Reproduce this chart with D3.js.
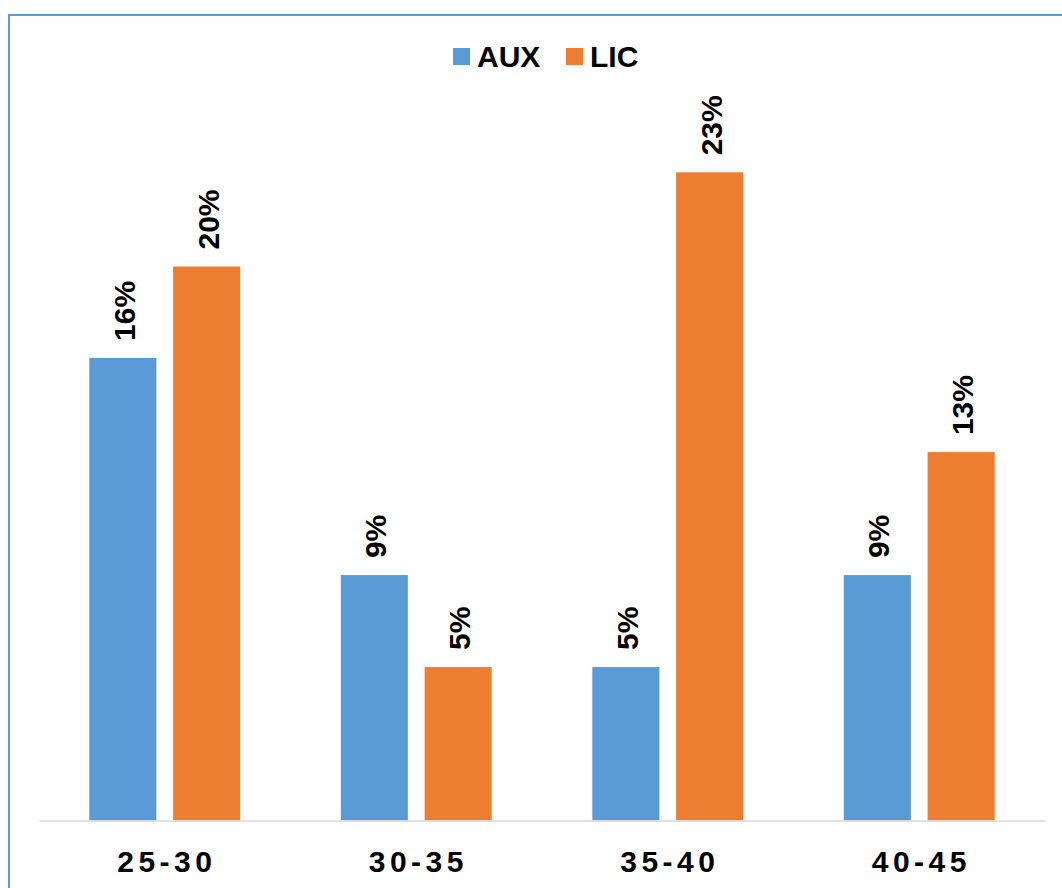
<!DOCTYPE html>
<html>
<head>
<meta charset="utf-8">
<script src="https://cdn.jsdelivr.net/npm/d3@7"></script>
<style>
  html, body { margin: 0; padding: 0; background: #fff; }
  svg { display: block; }
  text { font-family: "Liberation Sans", Arial, sans-serif; font-weight: bold; fill: #000; }
</style>
</head>
<body>
<script>
const categories = ["25-30", "30-35", "35-40", "40-45"];
const seriesNames = ["AUX", "LIC"];
const auxValues = [16.7, 8.86, 5.54, 8.86];
const licValues = [20.0, 5.54, 23.4, 13.3];
const auxLabels = ["16%", "9%", "5%", "9%"];
const licLabels = ["20%", "5%", "23%", "13%"];
const colors = ["#5B9BD5", "#ED7D31"];

const W = 1062, H = 888;
const svg = d3.select("body").append("svg").attr("width", W).attr("height", H);

// outer frame (extends past right/bottom edges like the reference)
svg.append("rect")
  .attr("x", 9).attr("y", 15)
  .attr("width", W + 20).attr("height", H + 20)
  .attr("fill", "none")
  .attr("stroke", "#5B9BD5")
  .attr("stroke-width", 2);

const plotLeft = 39, plotRight = 1045, baseY = 820.5;
const x0 = d3.scaleBand().domain(categories).range([plotLeft, plotRight]).paddingInner(0.4).paddingOuter(0.2);
const x1 = d3.scaleBand().domain(seriesNames).range([0, x0.bandwidth()]).paddingInner(0.2);
const y = d3.scaleLinear().domain([0, 25]).range([baseY, baseY - 25 * 27.7]);

const data = categories.map((c, i) => ({
  cat: c,
  vals: [
    { s: "AUX", v: auxValues[i], label: auxLabels[i], color: colors[0] },
    { s: "LIC", v: licValues[i], label: licLabels[i], color: colors[1] }
  ]
}));

const groups = svg.selectAll("g.grp").data(data).enter().append("g")
  .attr("class", "grp")
  .attr("transform", d => `translate(${x0(d.cat)},0)`);

groups.selectAll("rect").data(d => d.vals).enter().append("rect")
  .attr("x", d => x1(d.s))
  .attr("y", d => y(d.v))
  .attr("width", x1.bandwidth())
  .attr("height", d => y(0) - y(d.v))
  .attr("fill", d => d.color);

groups.selectAll("text.lbl").data(d => d.vals).enter().append("text")
  .attr("class", "lbl")
  .attr("transform", d => `translate(${x1(d.s) + x1.bandwidth() / 2},${y(d.v) - 17}) rotate(-90)`)
  .attr("dy", "0.4em")
  .attr("text-anchor", "start")
  .style("font-size", "30px")
  .text(d => d.label);

// baseline axis
const xAxis = d3.axisBottom(x0).tickSize(0).tickPadding(0);
const ax = svg.append("g").attr("transform", `translate(0,${baseY})`).call(xAxis);
ax.select(".domain").attr("stroke", "#D9D9D9").attr("stroke-width", 1.5);
ax.selectAll(".tick text")
  .attr("y", 51.5)
  .attr("dy", 0)
  .attr("dx", "0.07em")
  .style("font-size", "30px")
  .style("letter-spacing", "4.5px")
  .style("font-family", "\"Liberation Sans\", Arial, sans-serif")
  .style("font-weight", "bold")
  .attr("fill", "#000");

// legend
const legend = svg.append("g");
const legendItems = [
  { name: seriesNames[0], color: colors[0], x: 453 },
  { name: seriesNames[1], color: colors[1], x: 566 }
];
legendItems.forEach(it => {
  legend.append("rect").attr("x", it.x).attr("y", 48).attr("width", 17).attr("height", 17).attr("fill", it.color);
  legend.append("text").attr("x", it.x + 24).attr("y", 67).style("font-size", "30px").text(it.name);
});
</script>
</body>
</html>
